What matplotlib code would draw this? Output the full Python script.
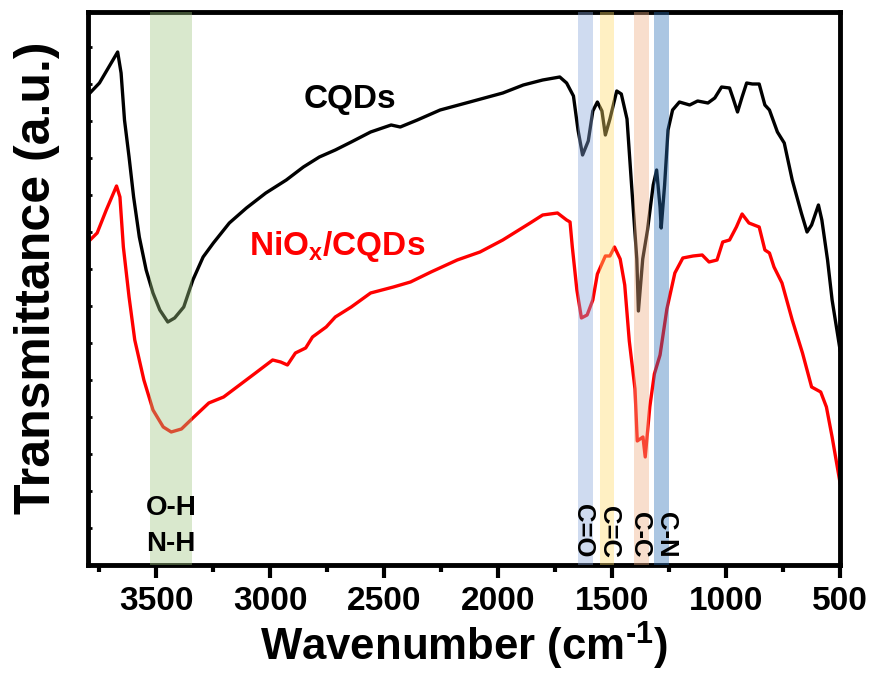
import numpy as np
import matplotlib
matplotlib.use('Agg')
import matplotlib.pyplot as plt
from matplotlib.ticker import MultipleLocator

plt.rcParams['font.family'] = ['Liberation Sans', 'DejaVu Sans']
plt.rcParams['font.weight'] = 'bold'
plt.rcParams['mathtext.fontset'] = 'custom'
plt.rcParams['mathtext.rm'] = 'Liberation Sans:bold'
plt.rcParams['mathtext.bf'] = 'Liberation Sans:bold'

# CQDs spectrum (wavenumber, transmittance a.u.)
wn_cqd = [3800, 3750, 3670, 3655, 3640, 3620, 3600, 3575, 3545, 3515, 3485, 3450,
          3420, 3380, 3340, 3295, 3250, 3180, 3105, 3020, 2930, 2855, 2785, 2715,
          2645, 2560, 2470, 2430, 2355, 2255, 2125, 1980, 1890, 1805, 1730, 1700,
          1670, 1650, 1630, 1605, 1585, 1565, 1545, 1530, 1510, 1480, 1460, 1435,
          1415, 1392, 1385, 1366, 1345, 1320, 1305, 1290, 1285, 1270, 1255, 1235,
          1205, 1160, 1125, 1080, 1050, 1020, 985, 970, 950, 930, 910, 885, 855,
          830, 810, 775, 745, 710, 670, 645, 625, 595, 580, 555, 535, 500]
t_cqd = [470, 482, 513, 492, 445, 408, 368, 328, 295, 272, 255, 243,
         247, 258, 285, 308, 322, 342, 357, 372, 385, 398, 408, 415,
         423, 433, 440, 438, 445, 455, 463, 472, 480, 485, 488, 482,
         469, 435, 410, 424, 454, 463, 454, 430, 446, 474, 471, 446,
         380, 306, 254, 306, 335, 380, 395, 358, 337, 380, 435, 455,
         463, 460, 464, 462, 467, 478, 477, 467, 453, 468, 482, 481, 481,
         460, 455, 433, 422, 385, 352, 333, 340, 360, 345, 305, 265, 215]

# NiOx/CQDs spectrum
wn_nio = [3800, 3760, 3720, 3675, 3660, 3645, 3620, 3595, 3555, 3515, 3470, 3435,
          3390, 3340, 3270, 3205, 3135, 3065, 2990, 2955, 2925, 2890, 2845, 2815,
          2755, 2715, 2645, 2560, 2460, 2385, 2295, 2180, 2080, 1980, 1860, 1805,
          1740, 1700, 1685, 1675, 1655, 1635, 1610, 1585, 1565, 1530, 1510, 1490,
          1465, 1445, 1425, 1400, 1390, 1365, 1355, 1335, 1315, 1290, 1260, 1225,
          1190, 1145, 1105, 1075, 1040, 1015, 985, 955, 930, 900, 855, 830, 810,
          790, 755, 710, 665, 625, 585, 560, 535, 500]
t_nio = [323, 332, 355, 379, 368, 318, 268, 225, 185, 155, 138, 133,
         136, 147, 162, 168, 180, 192, 205, 203, 200, 212, 217, 228,
         238, 248, 258, 272, 278, 283, 293, 305, 313, 325, 342, 350,
         352, 345, 343, 318, 275, 247, 250, 265, 291, 309, 309, 318,
         306, 280, 224, 176, 124, 128, 108, 158, 191, 210, 256, 292,
         307, 309, 310, 303, 305, 323, 325, 338, 351, 342, 338, 315, 312,
         298, 282, 245, 212, 178, 173, 158, 128, 82]

# highlighted bands (low, high wavenumber), colours and labels
band_lo = [3345, 1585, 1490, 1340, 1250]
band_hi = [3530, 1650, 1555, 1405, 1315]
band_col = ['#a0c682', '#87a5da', '#ffda69', '#eead82', '#2d71b7']
bond_lbl = ['C=O', 'C=C', 'C-C', 'C-N']
bond_x = [1628, 1512, 1376, 1262]

fig = plt.figure(figsize=(8.76, 6.82), dpi=100)
ax = fig.add_axes([0.1005, 0.1716, 0.8585, 0.8108])

ax.plot(wn_cqd, t_cqd, color='black', lw=2.4, zorder=2)
ax.plot(wn_nio, t_nio, color='red', lw=2.4, zorder=2)

for lo, hi, c in zip(band_lo, band_hi, band_col):
    ax.axvspan(lo, hi, color=c, alpha=0.4, lw=0, zorder=3)

ax.text(2650, 465, 'CQDs', fontsize=24, fontweight='bold', ha='center', va='center')
ax.text(2705, 318, r'NiO$_{\mathrm{x}}$/CQDs', fontsize=24, fontweight='bold',
        color='red', ha='center', va='center')

ax.text(3435, 57, 'O-H', fontsize=20, fontweight='bold', ha='center', va='center')
ax.text(3435, 21, 'N-H', fontsize=20, fontweight='bold', ha='center', va='center')
for lbl, x in zip(bond_lbl, bond_x):
    ax.text(x, 7, lbl, fontsize=18.5, fontweight='bold', rotation=-90,
            ha='center', va='bottom')

ax.set_xlim(3800, 500)
ax.set_ylim(0, 553)
ax.xaxis.set_major_locator(MultipleLocator(500))
ax.xaxis.set_minor_locator(MultipleLocator(250))
ax.yaxis.set_major_locator(MultipleLocator(37))
ax.tick_params(axis='x', which='major', direction='out', length=9, width=3,
               labelsize=24, pad=6)
ax.tick_params(axis='x', which='minor', direction='out', length=5, width=3)
ax.tick_params(axis='y', which='major', direction='in', length=3, width=2,
               labelleft=False)
for s in ax.spines.values():
    s.set_linewidth(3.5)

ax.set_xlabel(r'Wavenumber (cm$^{\text{-1}}$)', fontsize=31.5, fontweight='bold',
              labelpad=2)
ax.set_ylabel('Transmittance (a.u.)', fontsize=36, fontweight='bold')
ax.yaxis.set_label_coords(-0.037, 0.52)

plt.savefig('out.png', dpi=100)
